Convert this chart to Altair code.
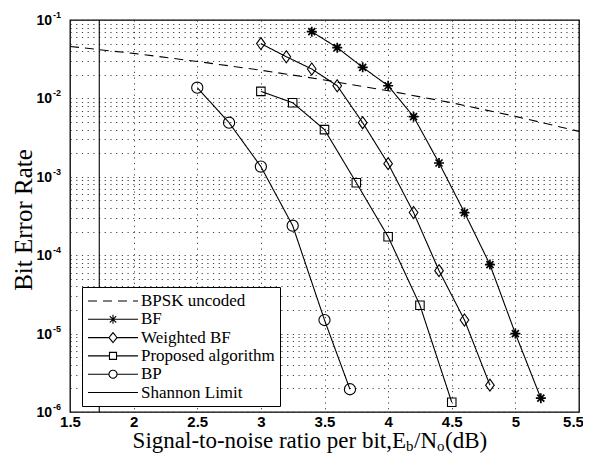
import altair as alt
import pandas as pd

# ---------------- data ----------------
series_names = ["BPSK uncoded", "BF", "Weighted BF", "Proposed algorithm", "BP", "Shannon Limit"]

snr_bpsk = [1.5, 2.0, 2.5, 3.0, 3.5, 4.0, 4.5, 5.0, 5.5]
ber_bpsk = [0.046, 0.0375, 0.0296, 0.0229, 0.0172, 0.0125, 0.0088, 0.0059, 0.0038]

snr_bf = [3.4, 3.6, 3.8, 4.0, 4.2, 4.4, 4.6, 4.8, 5.0, 5.2]
ber_bf = [0.071, 0.0444, 0.0249, 0.0145, 0.00585, 0.0015, 3.5e-4, 7.6e-5, 1.0e-5, 1.5e-6]

snr_wbf = [3.0, 3.2, 3.4, 3.6, 3.8, 4.0, 4.2, 4.4, 4.6, 4.8]
ber_wbf = [0.050, 0.034, 0.0237, 0.0145, 0.0049, 0.00147, 3.5e-4, 6.35e-5, 1.49e-5, 2.2e-6]

snr_prop = [3.0, 3.25, 3.5, 3.75, 4.0, 4.25, 4.5]
ber_prop = [0.0123, 0.0088, 0.0040, 8.4e-4, 1.72e-4, 2.3e-5, 1.33e-6]

snr_bp = [2.5, 2.75, 3.0, 3.25, 3.5, 3.7]
ber_bp = [0.0137, 0.0049, 0.00135, 2.38e-4, 1.49e-5, 1.95e-6]

snr_shannon = [1.73, 1.73]
ber_shannon = [1e-1, 1e-6]

x_tick_values = [1.5, 2.0, 2.5, 3.0, 3.5, 4.0, 4.5, 5.0, 5.5]
y_major = [1e-1, 1e-2, 1e-3, 1e-4, 1e-5, 1e-6]
y_exponents = ["-1", "-2", "-3", "-4", "-5", "-6"]

# ---------------- tables ----------------
rows = []
for name, xs, ys in [
    ("BPSK uncoded", snr_bpsk, ber_bpsk),
    ("BF", snr_bf, ber_bf),
    ("Weighted BF", snr_wbf, ber_wbf),
    ("Proposed algorithm", snr_prop, ber_prop),
    ("BP", snr_bp, ber_bp),
    ("Shannon Limit", snr_shannon, ber_shannon),
]:
    for i, (x, y) in enumerate(zip(xs, ys)):
        rows.append({"series": name, "snr": x, "ber": y, "order": i})
df = pd.DataFrame(rows)

y_grid = [m * 10.0 ** e for e in range(-6, -1) for m in range(1, 10)] + [0.1]

x_scale = alt.Scale(domain=[1.5, 5.5], nice=False, zero=False)
y_scale = alt.Scale(type="log", domain=[1e-6, 1e-1], nice=False)

GRID = dict(grid=True, gridColor="#222222", gridDash=[1.2, 4.5], gridWidth=1, gridOpacity=0.85)

x_axis = alt.Axis(values=x_tick_values, ticks=False, domain=False, title=None,
                  labelFont="Liberation Sans", labelFontWeight="bold", labelFontSize=15,
                  labelColor="black", labelPadding=2, labelFlush=False, format="~g",
                  labelOffset={"condition": {"test": "datum.value > 5.4", "value": -6}, "value": 0},
                  **GRID)
y_axis = alt.Axis(values=y_grid, ticks=False, domain=False, labels=False, title=None, **GRID)

X = alt.X("snr:Q", scale=x_scale, axis=x_axis)
Y = alt.Y("ber:Q", scale=y_scale, axis=y_axis)

# legend symbols: line + marker paths (unit = sqrt(symbolSize)/2 = 8 px)
L = "M-3.125,0H3.125"
leg_star = L + "M-0.56,0H0.56M0,-0.56V0.56M-0.4,-0.4L0.4,0.4M-0.4,0.4L0.4,-0.4"
leg_diamond = "M-3.125,0H-0.5M0.5,0H3.125M0,-0.625L0.5,0L0,0.625L-0.5,0Z"
leg_square = "M-3.125,0H-0.44M0.44,0H3.125M-0.44,-0.44H0.44V0.44H-0.44Z"
leg_circle = "M-3.125,0H-0.5M0.5,0H3.125M-0.5,0A0.5,0.5,0,1,0,0.5,0A0.5,0.5,0,1,0,-0.5,0Z"

shape_expr = (
    "datum.value === 'BF' ? '" + leg_star + "' : "
    "datum.value === 'Weighted BF' ? '" + leg_diamond + "' : "
    "datum.value === 'Proposed algorithm' ? '" + leg_square + "' : "
    "datum.value === 'BP' ? '" + leg_circle + "' : '" + L + "'"
)

legend = alt.Legend(
    title=None, orient="none", legendX=12, legendY=267, direction="vertical",
    symbolType={"expr": shape_expr}, symbolSize=256, symbolStrokeWidth=1.1,
    symbolStrokeColor="black", symbolFillColor="transparent", symbolOffset=17,
    labelFont="Liberation Serif", labelFontSize=17, labelColor="black",
    labelOffset=19, labelLimit=400, rowPadding=1.3,
    padding=5, strokeColor="black", fillColor="white", cornerRadius=0,
)

dash_range = [[9, 6], [1, 0], [1, 0], [1, 0], [1, 0], [1, 0]]

lines = alt.Chart(df).mark_line(color="black", strokeWidth=1.1).encode(
    x=X, y=Y,
    strokeDash=alt.StrokeDash("series:N", scale=alt.Scale(domain=series_names, range=dash_range),
                              legend=legend),
    order="order:Q",
)

star_path = "M-1,0H1M0,-1V1M-0.7,-0.7L0.7,0.7M-0.7,0.7L0.7,-0.7"
diamond_path = "M0,-1L0.72,0L0,1L-0.72,0Z"


def pts(name, shape, size, sw=1.1):
    return alt.Chart(df[df["series"] == name]).mark_point(
        shape=shape, size=size, filled=False, color="black", strokeWidth=sw, opacity=1
    ).encode(x=X, y=Y)


p_bf = pts("BF", star_path, 100, 1.7)
p_wbf = pts("Weighted BF", diamond_path, 144)
p_prop = pts("Proposed algorithm", "square", 72)
p_bp = pts("BP", "circle", 125)

# y tick labels 10^k
ylab_df = pd.DataFrame({"ber": y_major, "base": ["10"] * 6, "exp": y_exponents})
ylab_base = alt.Chart(ylab_df).mark_text(
    align="right", baseline="middle", font="Liberation Sans", fontWeight="bold",
    fontSize=14, dy=1, color="black"
).encode(x=alt.value(-18), y=Y, text="base:N")
ylab_exp = alt.Chart(ylab_df).mark_text(
    align="left", baseline="middle", font="Liberation Sans", fontWeight="bold",
    fontSize=9, dy=-5, dx=1, color="black"
).encode(x=alt.value(-18), y=Y, text="exp:N")


# axis titles
def txt(s, x, y, size, align="left", angle=0, baseline="alphabetic"):
    return alt.Chart(pd.DataFrame({"t": [s]})).mark_text(
        align=align, baseline=baseline, font="Liberation Serif", fontSize=size,
        color="black", angle=angle
    ).encode(x=alt.value(x), y=alt.value(y), text="t:N")


y_title = txt("Bit Error Rate", -46, 200, 25, align="center", angle=270, baseline="middle")
X1 = 336
BASE = 428
xt1 = txt("Signal-to-noise ratio per bit,E", X1, BASE, 23, align="right")
xt2 = txt("b", X1, BASE + 3, 15)
xt3 = txt("/N", X1 + 8, BASE, 23)
xt4 = txt("o", X1 + 31, BASE + 3, 15)
xt5 = txt("(dB)", X1 + 39, BASE, 23)

chart = alt.layer(
    lines, p_bf, p_wbf, p_prop, p_bp, ylab_base, ylab_exp, y_title, xt1, xt2, xt3, xt4, xt5
).properties(
    width=509, height=392,
    padding={"left": 62, "top": 12, "right": 4, "bottom": 42},
    autosize=alt.AutoSizeParams(type="none"),
    background="white",
).configure_view(stroke="black", strokeWidth=1.3)

chart.save("out.html", embed_options={"renderer": "svg", "actions": False})
